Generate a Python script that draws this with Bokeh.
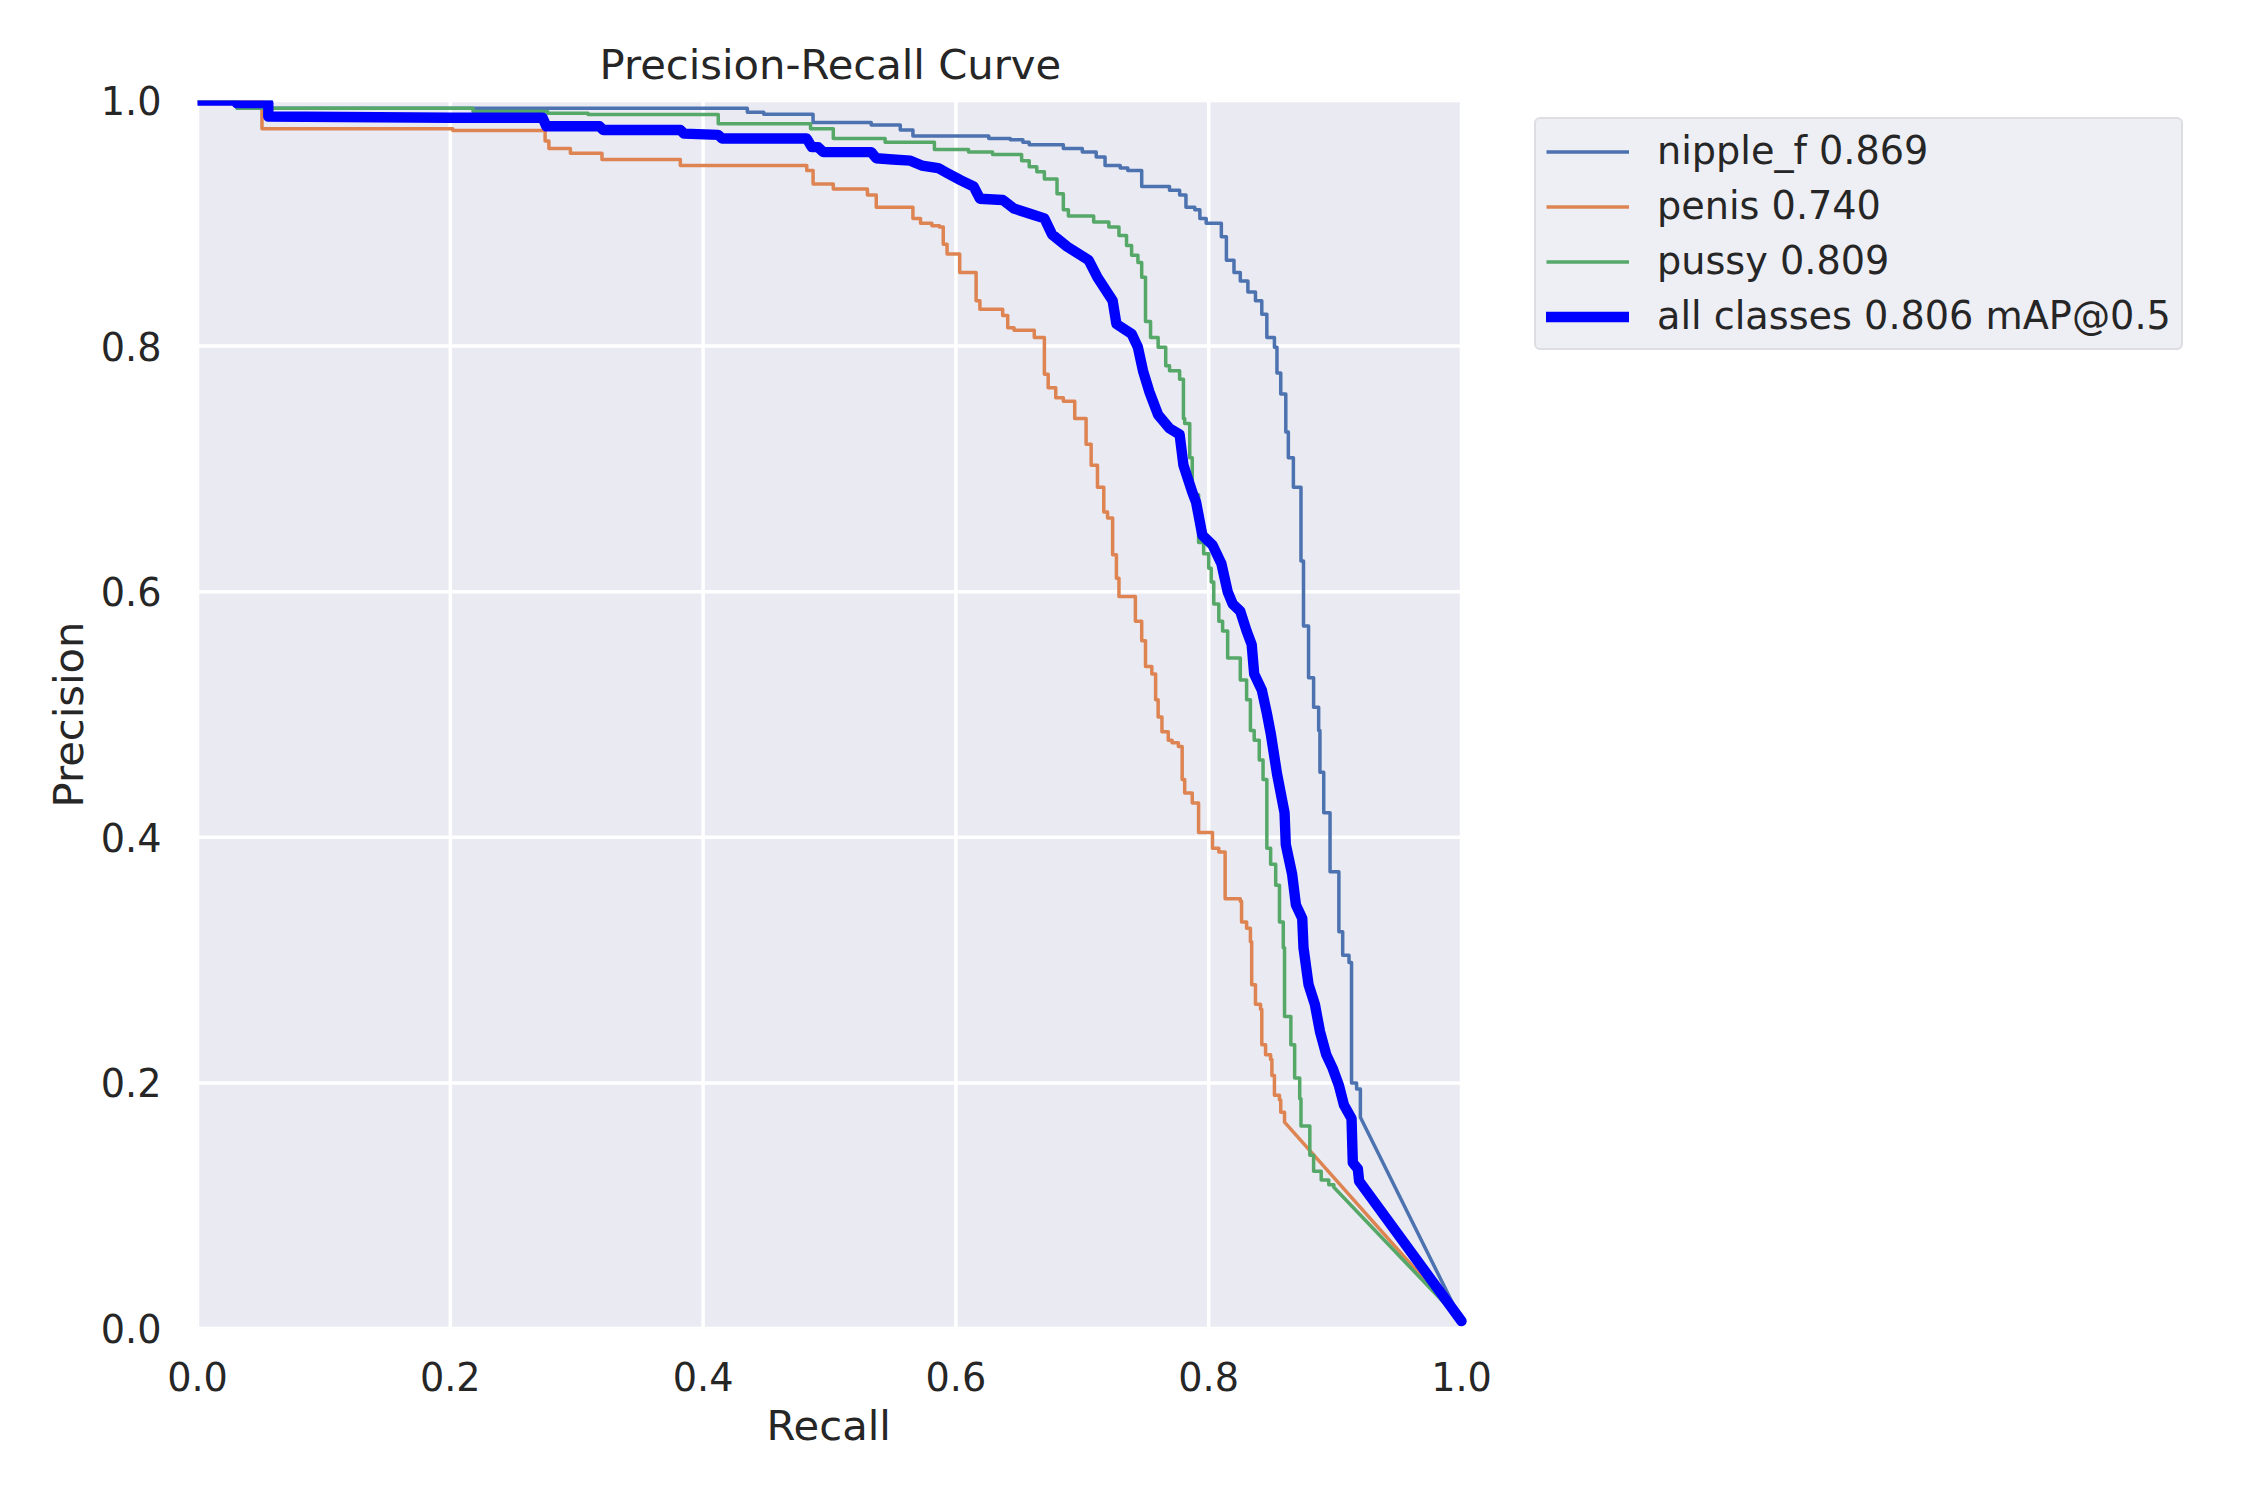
from bokeh.plotting import figure
from bokeh.models import Range1d, FixedTicker, Legend, LegendItem, PrintfTickFormatter, Title
from bokeh.embed import file_html
from bokeh.resources import INLINE

# ---------------- data ----------------
tick_values = [0.0, 0.2, 0.4, 0.6, 0.8, 1.0]
tick_labels = ["0.0", "0.2", "0.4", "0.6", "0.8", "1.0"]

series_names = ["nipple_f 0.869", "penis 0.740", "pussy 0.809", "all classes 0.806 mAP@0.5"]

# per-class curves as step levels: precision value holds from recall start until next start
nipple_recall = [0.0, 0.058, 0.435, 0.448, 0.487, 0.533, 0.556, 0.566, 0.626, 0.643, 0.653, 0.658,
                 0.685, 0.700, 0.711, 0.718, 0.730, 0.736, 0.747, 0.769, 0.777, 0.782, 0.789, 0.793,
                 0.798, 0.810, 0.814, 0.820, 0.825, 0.831, 0.837, 0.842, 0.846, 0.852, 0.854, 0.857,
                 0.861, 0.863, 0.867, 0.873, 0.875, 0.879, 0.883, 0.887, 0.888, 0.891, 0.896, 0.903,
                 0.906, 0.911, 0.913, 0.917, 0.920]
nipple_precision = [1.0, 0.9937, 0.9905, 0.9888, 0.982, 0.980, 0.976, 0.971, 0.969, 0.968, 0.966, 0.964,
                    0.961, 0.958, 0.954, 0.947, 0.945, 0.943, 0.930, 0.927, 0.923, 0.913, 0.911, 0.904,
                    0.900, 0.889, 0.870, 0.860, 0.853, 0.844, 0.837, 0.826, 0.807, 0.799, 0.778, 0.761,
                    0.730, 0.709, 0.685, 0.625, 0.572, 0.530, 0.506, 0.487, 0.453, 0.420, 0.372, 0.323,
                    0.304, 0.298, 0.200, 0.195, 0.172]

penis_recall = [0.0, 0.051, 0.202, 0.275, 0.278, 0.295, 0.320, 0.382, 0.482, 0.487, 0.503, 0.530,
                0.537, 0.566, 0.572, 0.581, 0.587, 0.590, 0.593, 0.603, 0.616, 0.619, 0.637, 0.641,
                0.646, 0.662, 0.670, 0.673, 0.679, 0.685, 0.694, 0.703, 0.707, 0.712, 0.717, 0.720,
                0.724, 0.727, 0.729, 0.742, 0.747, 0.750, 0.755, 0.758, 0.760, 0.763, 0.768, 0.771,
                0.776, 0.779, 0.781, 0.787, 0.792, 0.803, 0.808, 0.813, 0.825, 0.826, 0.830, 0.833,
                0.834, 0.837, 0.841, 0.842, 0.845, 0.849, 0.850, 0.852, 0.856, 0.857, 0.860]
penis_precision = [1.0, 0.977, 0.9755, 0.967, 0.961, 0.957, 0.952, 0.947, 0.943, 0.932, 0.928, 0.923,
                   0.913, 0.904, 0.900, 0.898, 0.897, 0.883, 0.875, 0.860, 0.837, 0.830, 0.825, 0.815,
                   0.813, 0.807, 0.777, 0.766, 0.758, 0.755, 0.741, 0.720, 0.703, 0.685, 0.665, 0.660,
                   0.630, 0.611, 0.596, 0.576, 0.560, 0.539, 0.533, 0.512, 0.498, 0.486, 0.479, 0.477,
                   0.474, 0.447, 0.436, 0.428, 0.404, 0.391, 0.388, 0.350, 0.348, 0.331, 0.326, 0.315,
                   0.280, 0.264, 0.260, 0.231, 0.223, 0.219, 0.206, 0.190, 0.186, 0.176, 0.168]

pussy_recall = [0.0, 0.031, 0.218, 0.277, 0.309, 0.412, 0.485, 0.503, 0.544, 0.583, 0.610, 0.629,
                0.652, 0.658, 0.664, 0.670, 0.680, 0.685, 0.689, 0.709, 0.721, 0.729, 0.735, 0.739,
                0.744, 0.747, 0.750, 0.754, 0.760, 0.766, 0.769, 0.777, 0.780, 0.781, 0.785, 0.787,
                0.792, 0.796, 0.800, 0.802, 0.804, 0.808, 0.811, 0.815, 0.825, 0.830, 0.833, 0.836,
                0.840, 0.843, 0.846, 0.849, 0.853, 0.856, 0.859, 0.860, 0.865, 0.868, 0.872, 0.873,
                0.880, 0.883, 0.889, 0.895, 0.899]
pussy_precision = [1.0, 0.9937, 0.991, 0.9896, 0.9885, 0.981, 0.977, 0.969, 0.966, 0.960, 0.958, 0.956,
                   0.951, 0.946, 0.942, 0.936, 0.924, 0.911, 0.906, 0.901, 0.897, 0.890, 0.882, 0.874,
                   0.868, 0.856, 0.820, 0.807, 0.799, 0.784, 0.780, 0.773, 0.741, 0.737, 0.709, 0.679,
                   0.640, 0.631, 0.619, 0.608, 0.590, 0.576, 0.568, 0.546, 0.528, 0.512, 0.487, 0.479,
                   0.463, 0.447, 0.391, 0.378, 0.361, 0.331, 0.310, 0.254, 0.231, 0.204, 0.187, 0.165,
                   0.141, 0.128, 0.121, 0.117, 0.115]

# mean curve: points (polyline)
all_recall = [0.0, 0.031, 0.031, 0.056, 0.056, 0.200, 0.273, 0.276, 0.318, 0.321, 0.382, 0.385,
              0.412, 0.415, 0.482, 0.486, 0.491, 0.495, 0.533, 0.537, 0.550, 0.564, 0.573, 0.586,
              0.593, 0.604, 0.614, 0.619, 0.637, 0.646, 0.658, 0.670, 0.676, 0.688, 0.705, 0.712,
              0.724, 0.727, 0.739, 0.744, 0.748, 0.753, 0.760, 0.769, 0.777, 0.780, 0.787, 0.790,
              0.795, 0.803, 0.810, 0.815, 0.819, 0.825, 0.830, 0.834, 0.836, 0.842, 0.846, 0.849,
              0.854, 0.860, 0.861, 0.866, 0.869, 0.874, 0.875, 0.879, 0.884, 0.888, 0.893, 0.898,
              0.903, 0.907, 0.913, 0.914, 0.918, 0.919, 1.0]
all_precision = [1.0, 1.0, 0.998, 0.998, 0.987, 0.986, 0.986, 0.979, 0.979, 0.976, 0.976, 0.973,
                 0.972, 0.969, 0.969, 0.962, 0.962, 0.958, 0.958, 0.953, 0.952, 0.951, 0.947, 0.945,
                 0.941, 0.935, 0.930, 0.920, 0.919, 0.912, 0.908, 0.904, 0.891, 0.881, 0.870, 0.856,
                 0.837, 0.818, 0.810, 0.799, 0.780, 0.763, 0.744, 0.733, 0.728, 0.703, 0.681, 0.673,
                 0.646, 0.638, 0.623, 0.600, 0.590, 0.584, 0.568, 0.557, 0.533, 0.520, 0.501, 0.485,
                 0.452, 0.420, 0.394, 0.370, 0.345, 0.334, 0.310, 0.280, 0.264, 0.242, 0.223, 0.212,
                 0.198, 0.182, 0.171, 0.135, 0.130, 0.120, 0.006]

end_recall = 1.0
end_precision = [0.006, 0.006, 0.006]

colors = ["#4C72B0", "#DD8452", "#55A868", "#0000FF"]
widths = [3.5, 3.5, 3.5, 10.4]


def step_path(rec, prec, r_end, p_end):
    xs, ys = [], []
    n = len(rec)
    for i in range(n):
        xs.append(rec[i]); ys.append(prec[i])
        if i + 1 < n:
            xs.append(rec[i + 1]); ys.append(prec[i])
    xs.append(r_end); ys.append(p_end)
    return xs, ys


TEXT = "#262626"
FONT = "DejaVu Sans"

# layout (pixels): axes box spans x 197..1461, y 100..1328 of a 2250x1500 canvas;
# the frame is extended to the right edge so the legend can sit beside the axes box.
W, H = 2250, 1500
AX_L, AX_R, AX_T, AX_B = 197, 1461, 100, 1328
lo, hi = tick_values[0], tick_values[-1]
x_max = hi + (W - AX_R) / (AX_R - AX_L) * (hi - lo)

p = figure(width=W, height=H, x_range=Range1d(lo, x_max), y_range=Range1d(lo, hi),
           output_backend="svg", toolbar_location=None,
           min_border_left=AX_L, min_border_right=0, min_border_top=AX_T, min_border_bottom=H - AX_B,
           background_fill_color="white", border_fill_color="white", outline_line_color=None)

p.title.text = "Precision-Recall Curve"
p.title.align = "left"
p.title.offset = 402
p.title.text_font = FONT
p.title.text_font_size = "41.7px"
p.title.text_font_style = "normal"
p.title.text_color = TEXT
p.title.standoff = 23

for ax in (p.xaxis, p.yaxis):
    ax.ticker = FixedTicker(ticks=tick_values)
    ax.formatter = PrintfTickFormatter(format="%.1f")
    ax.major_label_overrides = {v: l for v, l in zip(tick_values, tick_labels)}
    ax.bounds = (lo, hi)
    ax.axis_line_color = None
    ax.major_tick_line_color = None
    ax.minor_tick_line_color = None
    ax.major_tick_out = 0
    ax.major_tick_in = 0
    ax.major_label_text_font = FONT
    ax.major_label_text_font_size = "38.2px"
    ax.major_label_text_color = TEXT
    ax.axis_label_text_font = FONT
    ax.axis_label_text_font_size = "41.7px"
    ax.axis_label_text_font_style = "normal"
    ax.axis_label_text_color = TEXT

p.yaxis.axis_label = "Precision"
p.xaxis.major_label_standoff = 33
p.yaxis.major_label_standoff = 36
p.yaxis.axis_label_standoff = 5

# x-axis title centred under the axes box (not under the widened frame)
xlabel = Title(text="Recall", align="left", offset=766 - AX_L, standoff=10,
               text_font=FONT, text_font_size="41.7px", text_font_style="normal", text_color=TEXT)
p.add_layout(xlabel, "below")

p.grid.grid_line_color = None

# axes background and white grid, limited to the axes box
p.quad(left=lo, right=hi, bottom=lo, top=hi, fill_color="#EAEAF2", line_color=None, level="image")
p.segment(x0=tick_values, y0=lo, x1=tick_values, y1=hi, line_color="white", line_width=3.5,
          level="underlay")
p.segment(x0=lo, y0=tick_values, x1=hi, y1=tick_values, line_color="white", line_width=3.5,
          level="underlay")

class_series = [(nipple_recall, nipple_precision), (penis_recall, penis_precision),
                (pussy_recall, pussy_precision)]

items = []
for k, (rec, prec) in enumerate(class_series):
    xs, ys = step_path(rec, prec, end_recall, end_precision[k])
    r = p.line(xs, ys, line_color=colors[k], line_width=widths[k], line_join="round")
    items.append(LegendItem(label=series_names[k], renderers=[r]))

r_all = p.line(all_recall, all_precision, line_color=colors[3], line_width=widths[3],
               line_join="round", line_cap="round")
items.append(LegendItem(label=series_names[3], renderers=[r_all]))

legend = Legend(items=items, location=(1534 - AX_L, AX_B - 350), orientation="vertical",
                label_text_font=FONT, label_text_font_size="38.2px", label_text_color=TEXT,
                glyph_width=83, glyph_height=41, label_height=41, label_standoff=28,
                spacing=11, padding=10, margin=0,
                background_fill_color="#EAEAF2", background_fill_alpha=0.8,
                border_line_color="#D0D0D0", border_line_width=2.5)
try:
    legend.border_radius = 6
except Exception:
    pass
p.add_layout(legend)

open("out.html", "w").write(file_html(p, INLINE))
